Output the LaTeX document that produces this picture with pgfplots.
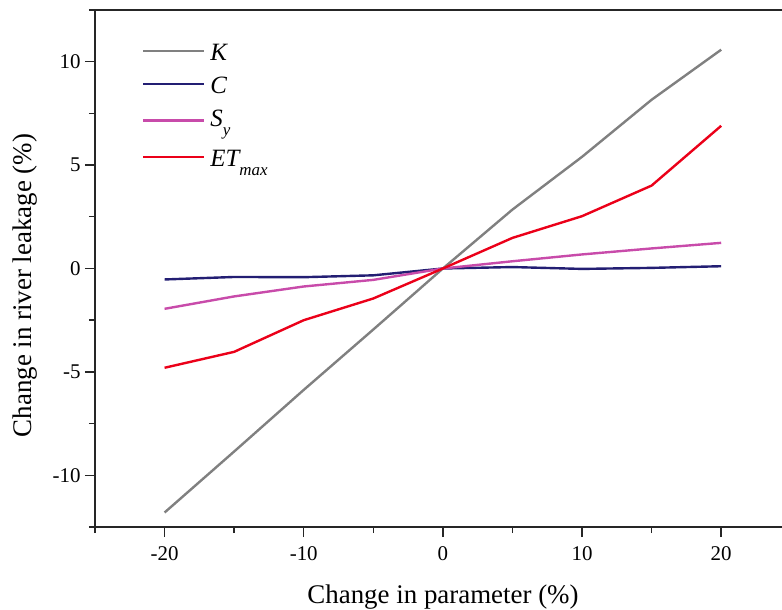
\documentclass[border=0pt]{standalone}
\usepackage{pgfplots}
\pgfplotsset{compat=1.18}
\usepackage{fontspec}
\setmainfont{Liberation Serif}
\definecolor{cK}{RGB}{128,128,128}
\definecolor{cC}{RGB}{35,30,115}
\definecolor{cS}{RGB}{200,75,170}
\definecolor{cE}{RGB}{235,0,25}
\newcommand{\sub}[1]{\smash{\raisebox{-9bp}{\fontsize{17}{18}\selectfont\itshape #1}}}
\begin{document}
\begin{tikzpicture}
\begin{axis}[name=ax, at={(0,0)}, anchor=south west, scale only axis,
  width=687bp, height=517bp,
  xmin=-25, xmax=24.37, ymin=-12.5, ymax=12.5,
  axis lines*=left, axis line style={-, line width=1.8bp, black!85},
  xtick={-20,-10,0,10,20}, minor xtick={-25,-15,-5,5,15},
  ytick={-10,-5,0,5,10}, minor ytick={-12.5,-7.5,-2.5,2.5,7.5,12.5},
  tick align=outside, tick pos=left,
  major tick length=10bp, minor tick length=6bp,
  every tick/.style={line width=1.4bp, black!85},
  /pgf/number format/assume math mode=true,
  tick label style={font=\fontsize{21}{24}\selectfont},
  xticklabel style={yshift=-6bp},
  yticklabel style={xshift=-1bp},
  legend style={at={(rel axis cs:0,1)}, anchor=north west, xshift=46.7bp, yshift=-26bp,
    draw=none, fill=none, font=\fontsize{25}{28}\selectfont\itshape,
    row sep=0pt, inner sep=0pt, column sep=5bp,
    nodes={inner sep=0pt, text height=24bp, text depth=9bp}},
  legend cell align=left,
  legend image code/.code={\draw[#1, line width=2.4bp] (0bp,1.5bp) -- (61bp,1.5bp);},
  clip=false,
]
\addplot[cK, line width=2.4bp] coordinates {(-20,-11.8) (-15,-8.85) (-10,-5.87) (-5,-2.95) (0,0) (5,2.85) (10,5.4) (15,8.16) (20,10.58)};
\addlegendentry{K}
\addplot[cC, line width=2.4bp] coordinates {(-20,-0.53) (-15,-0.41) (-10,-0.42) (-5,-0.33) (0,0) (5,0.07) (10,-0.02) (15,0.03) (20,0.11)};
\addlegendentry{C}
\addplot[cS, line width=2.4bp] coordinates {(-20,-1.95) (-15,-1.35) (-10,-0.87) (-5,-0.55) (0,0) (5,0.35) (10,0.68) (15,0.97) (20,1.24)};
\addlegendentry[text depth=16bp]{S\sub{y}}
\addplot[cE, line width=2.4bp] coordinates {(-20,-4.8) (-15,-4.03) (-10,-2.5) (-5,-1.45) (0,0) (5,1.48) (10,2.53) (15,4.01) (20,6.9)};
\addlegendentry{ET\sub{max}}
\draw[line width=1.8bp, black!85] (rel axis cs:0,1) -- (rel axis cs:1,1);
\end{axis}
\node[rotate=90, anchor=base, font=\fontsize{27}{30}\selectfont] at (-63bp,241.5bp) {Change in river leakage (\%)};
\node[anchor=base, font=\fontsize{27}{30}\selectfont] at (348bp,-76bp) {Change in parameter (\%)};
\pgfresetboundingbox
\path (-95bp,-83bp) rectangle (687bp,527bp);
\end{tikzpicture}
\end{document}
